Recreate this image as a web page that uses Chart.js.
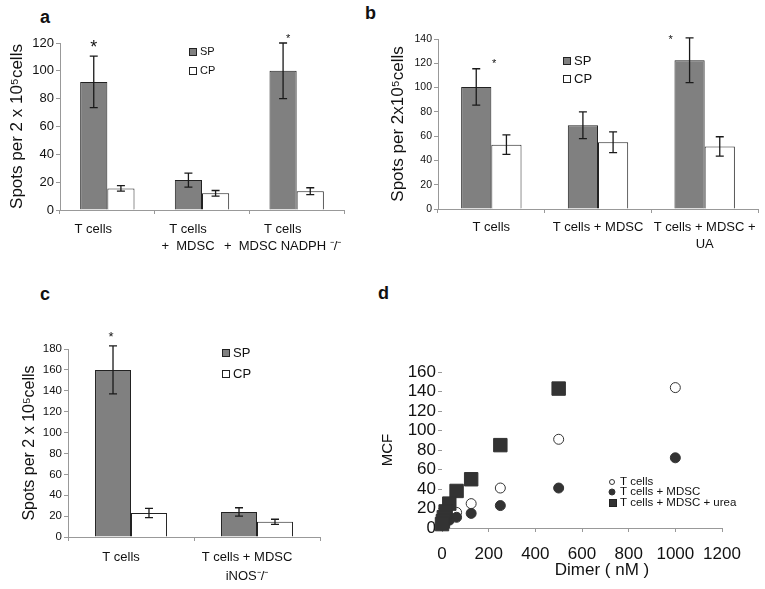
<!DOCTYPE html>
<html>
<head>
<meta charset="utf-8">
<script src="https://cdn.jsdelivr.net/npm/chart.js@4.4.1/dist/chart.umd.min.js"></script>
<style>
body { margin: 0; background: #fff; width: 765px; height: 589px; position: relative; overflow: hidden; font-family: "Liberation Sans", Arial, sans-serif; }
canvas { position: absolute; }
.lt { position: absolute; font-weight: bold; font-size: 18px; line-height: 1; color: #111; }
</style>
</head>
<body>
<div class="lt" style="left:40px;top:8px">a</div>
<div class="lt" style="left:365px;top:4px">b</div>
<div class="lt" style="left:40px;top:285px">c</div>
<div class="lt" style="left:378px;top:284px">d</div>
<canvas id="ca" width="380" height="280" style="left:0;top:0"></canvas>
<canvas id="cb" width="385" height="280" style="left:380px;top:0"></canvas>
<canvas id="cc" width="380" height="309" style="left:0;top:280px"></canvas>
<canvas id="cd" width="385" height="309" style="left:380px;top:280px"></canvas>
<script>
// panel a
const catsA = [['T cells', ''], ['T cells', '+  MDSC'], ['T cells', '+  MDSC NADPH \u207B/\u207B']];
const spA = [92, 21.5, 100];
const spAErr = [18.5, 5, 20];
const cpA = [15.5, 12, 13.5];
const cpAErr = [2, 2, 2.5];

// panel b
const catsB = ['T cells', 'T cells + MDSC', ['T cells + MDSC +', 'UA']];
const spB = [100.5, 69, 122.5];
const spBErr = [15, 11, 18.5];
const cpB = [53, 55, 51.5];
const cpBErr = [8, 8.5, 8];

// panel c
const catsC = ['T cells', ['T cells + MDSC', 'iNOS\u207B/\u207B']];
const spC = [160, 24];
const spCErr = [23, 4];
const cpC = [23, 14.5];
const cpCErr = [4.5, 2.5];

// panel d
const dimer = [1000, 500, 250, 125, 62.5, 31.25, 15.6, 7.8, 3.9, 0];
const mcfT = [144, 91, 41, 25, 16, 11, 8, 6, 4, 3];
const mcfMdsc = [72, 41, 23, 15, 11, 8, 6, 5, 4, 3];
const mcfUrea = [null, 143, 85, 50, 38, 25, 17, 11, 7, 4];

const FONT = '"Liberation Sans", Arial, sans-serif';
Chart.defaults.font.family = FONT;
Chart.defaults.color = '#111';

const errorBars = {
  id: 'errorBars',
  afterDatasetsDraw(chart) {
    const ctx = chart.ctx, y = chart.scales.y;
    chart.data.datasets.forEach((ds, i) => {
      if (!ds.err) return;
      chart.getDatasetMeta(i).data.forEach((bar, j) => {
        const v = ds.data[j], e = ds.err[j];
        const t = y.getPixelForValue(v + e), b = y.getPixelForValue(v - e);
        ctx.save();
        ctx.strokeStyle = '#1a1a1a';
        ctx.lineWidth = 1.3;
        ctx.beginPath();
        ctx.moveTo(bar.x, t); ctx.lineTo(bar.x, b);
        ctx.moveTo(bar.x - 4, t); ctx.lineTo(bar.x + 4, t);
        ctx.moveTo(bar.x - 4, b); ctx.lineTo(bar.x + 4, b);
        ctx.stroke();
        ctx.restore();
      });
    });
  }
};

// asterisks, legends and free text
const notes = {
  id: 'notes',
  afterDraw(chart, args, o) {
    const ctx = chart.ctx;
    ctx.save();
    ctx.fillStyle = '#111';
    ctx.textAlign = 'center';
    ctx.textBaseline = 'alphabetic';
    (o.stars || []).forEach(s => {
      const bar = chart.getDatasetMeta(0).data[s.i];
      ctx.font = s.size + 'px ' + FONT;
      ctx.fillText('*', bar.x + s.dx, chart.scales.y.getPixelForValue(s.v) + s.size * 0.57);
    });
    (o.legend || []).forEach(l => {
      ctx.textAlign = 'left';
      ctx.textBaseline = 'middle';
      ctx.font = l.size + 'px ' + FONT;
      if (l.box) {
        ctx.fillStyle = l.box;
        ctx.strokeStyle = '#222';
        ctx.lineWidth = 1;
        ctx.fillRect(l.x - l.b / 2, l.y - l.b / 2, l.b, l.b);
        ctx.strokeRect(l.x - l.b / 2 + 0.5, l.y - l.b / 2 + 0.5, l.b - 1, l.b - 1);
      }
      if (l.dot) {
        ctx.beginPath();
        ctx.arc(l.x, l.y, l.r, 0, Math.PI * 2);
        ctx.fillStyle = l.dot;
        ctx.fill();
        ctx.strokeStyle = '#333';
        ctx.lineWidth = 1;
        ctx.stroke();
      }
      ctx.fillStyle = '#111';
      ctx.fillText(l.text, l.tx, l.y);
    });
    (o.texts || []).forEach(t => {
      ctx.textAlign = 'center';
      ctx.textBaseline = 'middle';
      ctx.font = t.size + 'px ' + FONT;
      ctx.fillStyle = '#111';
      ctx.fillText(t.text, t.x, t.y);
    });
    ctx.restore();
  }
};

function barChart(id, cats, sp, spErr, cp, cpErr, o) {
  return new Chart(document.getElementById(id), {
    type: 'bar',
    data: {
      labels: cats,
      datasets: [
        { label: 'SP', data: sp, err: spErr, backgroundColor: '#808080', borderColor: '#222', borderWidth: 1 },
        { label: 'CP', data: cp, err: cpErr, backgroundColor: '#fff', borderColor: '#222', borderWidth: 1 }
      ]
    },
    options: {
      responsive: false,
      animation: false,
      datasets: { bar: { categoryPercentage: o.cp, barPercentage: 1 } },
      layout: { padding: { top: o.top, right: o.right, left: 0, bottom: 0 } },
      plugins: {
        legend: { display: false },
        tooltip: { enabled: false },
        notes: { stars: o.stars, legend: o.legend }
      },
      scales: {
        x: {
          offset: true,
          grid: { offset: true, drawOnChartArea: false, tickLength: 4, color: '#999' },
          border: { color: '#999' },
          ticks: { font: { size: 13, lineHeight: o.lh }, padding: o.xpad, labelOffset: o.lo, maxRotation: 0, autoSkip: false },
          afterFit: s => { s.height = o.xh; }
        },
        y: {
          min: 0, max: o.max,
          grid: { drawOnChartArea: false, tickLength: 4, color: '#999' },
          border: { color: '#999' },
          ticks: { stepSize: 20, font: { size: o.tick }, padding: 2, autoSkip: false },
          title: { display: true, text: o.title, font: { size: o.tsize, lineHeight: 1.2 }, padding: { top: o.tpad, bottom: 0 } },
          afterFit: s => { s.width = o.yw; }
        }
      }
    },
    plugins: [errorBars, notes]
  });
}

barChart('ca', catsA, spA, spAErr, cpA, cpAErr, {
  cp: 0.574, top: 43, right: 36, xh: 70, yw: 60, max: 120, tick: 13,
  title: 'Spots per 2 x 10\u2075cells', tsize: 17, tpad: 7, lh: 1.38, xpad: 6, lo: -14,
  stars: [{ i: 0, dx: 0, v: 120, size: 18 }, { i: 2, dx: 5, v: 125, size: 11 }],
  legend: [
    { box: '#808080', b: 8, x: 193, y: 52, tx: 200, text: 'SP', size: 11 },
    { box: '#fff', b: 8, x: 193, y: 71, tx: 200, text: 'CP', size: 11 }
  ]
});

barChart('cb', catsB, spB, spBErr, cpB, cpBErr, {
  cp: 0.566, top: 39, right: 7, xh: 71, yw: 58, max: 140, tick: 10.5,
  title: 'Spots per 2x10\u2075cells', tsize: 17, tpad: 8, lh: 1.3, xpad: 6, lo: 0,
  stars: [{ i: 0, dx: 18, v: 122, size: 11 }, { i: 2, dx: -19, v: 141.5, size: 11 }],
  legend: [
    { box: '#808080', b: 8, x: 187, y: 61, tx: 194, text: 'SP', size: 13 },
    { box: '#fff', b: 8, x: 187, y: 79, tx: 194, text: 'CP', size: 13 }
  ]
});

barChart('cc', catsC, spC, spCErr, cpC, cpCErr, {
  cp: 0.571, top: 69, right: 60, xh: 52, yw: 68, max: 180, tick: 11.5,
  title: 'Spots per 2 x 10\u2075cells', tsize: 16, tpad: 20, lh: 1.45, xpad: 7, lo: -10,
  stars: [{ i: 0, dx: -2, v: 195, size: 13 }],
  legend: [
    { box: '#808080', b: 8, x: 226, y: 73, tx: 233, text: 'SP', size: 13 },
    { box: '#fff', b: 8, x: 226, y: 94, tx: 233, text: 'CP', size: 13 }
  ]
});

const pts = arr => dimer.map((x, i) => ({ x, y: arr[i] })).filter(p => p.y !== null);

new Chart(document.getElementById('cd'), {
  type: 'scatter',
  data: {
    datasets: [
      { label: 'T cells + MDSC + urea', data: pts(mcfUrea), pointStyle: 'rect', pointRadius: 9.5, backgroundColor: '#333', borderColor: '#333', clip: false },
      { label: 'T cells + MDSC', data: pts(mcfMdsc), pointStyle: 'circle', pointRadius: 5, backgroundColor: '#333', borderColor: '#333', clip: false },
      { label: 'T cells', data: pts(mcfT), pointStyle: 'circle', pointRadius: 5, backgroundColor: '#fff', borderColor: '#333', borderWidth: 1, clip: false }
    ]
  },
  options: {
    responsive: false,
    animation: false,
    layout: { padding: { top: 92, right: 43, left: 0, bottom: 0 } },
    plugins: {
      legend: { display: false },
      tooltip: { enabled: false },
      notes: {
        legend: [
          { dot: '#fff', r: 2.5, x: 232, y: 202, tx: 240, text: 'T cells', size: 11.5 },
          { dot: '#333', r: 3, x: 232, y: 212, tx: 240, text: 'T cells + MDSC', size: 11.5 },
          { box: '#333', b: 8, x: 233, y: 223, tx: 240, text: 'T cells + MDSC + urea', size: 11.5 }
        ],
        texts: [{ text: 'Dimer ( nM )', x: 222, y: 290, size: 17 }]
      }
    },
    scales: {
      x: {
        type: 'linear', min: 0, max: 1200,
        grid: { drawOnChartArea: false, tickLength: 4, color: '#999' },
        border: { color: '#999' },
        ticks: { stepSize: 200, font: { size: 17 }, padding: 12, maxRotation: 0, autoSkip: false, callback: v => String(v) },
        afterFit: s => { s.height = 61; }
      },
      y: {
        min: 0, max: 160,
        grid: { drawOnChartArea: false, tickLength: 4, color: '#999' },
        border: { display: false },
        ticks: { stepSize: 20, font: { size: 17 }, padding: 2, autoSkip: false, callback: v => String(v) },
        title: { display: true, text: 'MCF', font: { size: 15, lineHeight: 1 }, padding: 0 },
        afterFit: s => { s.width = 62; }
      }
    }
  },
  plugins: [notes]
});
</script>
</body>
</html>
